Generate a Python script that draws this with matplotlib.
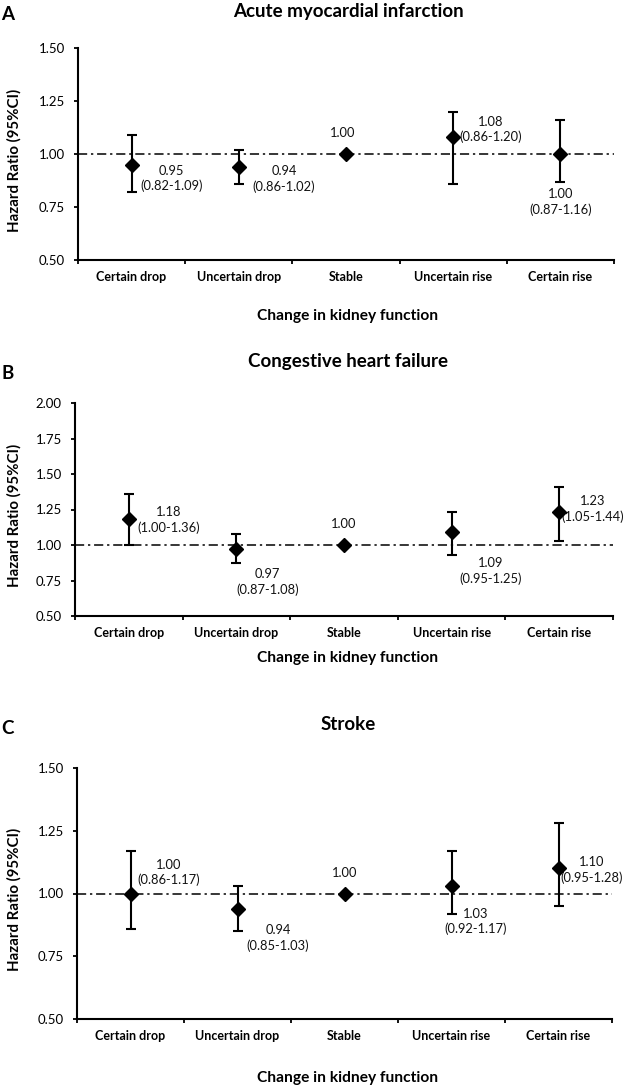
import matplotlib
matplotlib.use("Agg")
import matplotlib.pyplot as plt

plt.rcParams['font.family'] = ['Lato', 'DejaVu Sans']

categories = ["Certain drop", "Uncertain drop", "Stable", "Uncertain rise", "Certain rise"]

# Panel A: Acute myocardial infarction
hr_a = [0.95, 0.94, 1.00, 1.08, 1.00]
lo_a = [0.82, 0.86, 1.00, 0.86, 0.87]
hi_a = [1.09, 1.02, 1.00, 1.20, 1.16]
lab_a = ["0.95\n(0.82-1.09)", "0.94\n(0.86-1.02)", "1.00", "1.08\n(0.86-1.20)", "1.00\n(0.87-1.16)"]

# Panel B: Congestive heart failure
hr_b = [1.18, 0.97, 1.00, 1.09, 1.23]
lo_b = [1.00, 0.87, 1.00, 0.93, 1.03]
hi_b = [1.36, 1.08, 1.00, 1.23, 1.41]
lab_b = ["1.18\n(1.00-1.36)", "0.97\n(0.87-1.08)", "1.00", "1.09\n(0.95-1.25)", "1.23\n(1.05-1.44)"]

# Panel C: Stroke
hr_c = [1.00, 0.94, 1.00, 1.03, 1.10]
lo_c = [0.86, 0.85, 1.00, 0.92, 0.95]
hi_c = [1.17, 1.03, 1.00, 1.17, 1.28]
lab_c = ["1.00\n(0.86-1.17)", "0.94\n(0.85-1.03)", "1.00", "1.03\n(0.92-1.17)", "1.10\n(0.95-1.28)"]

titles = ["Acute myocardial infarction", "Congestive heart failure", "Stroke"]
letters = ["A", "B", "C"]
yticks_a = [0.50, 0.75, 1.00, 1.25, 1.50]
yticks_b = [0.50, 0.75, 1.00, 1.25, 1.50, 1.75, 2.00]
yticks_c = [0.50, 0.75, 1.00, 1.25, 1.50]
xlabel = "Change in kidney function"
ylabel = "Hazard Ratio (95%CI)"

# ---- layout (pixels) ----
W, H = 628, 1086
fig = plt.figure(figsize=(W / 100, H / 100), dpi=100)

panels = [
    dict(box=(78, 614, 48, 260), hr=hr_a, lo=lo_a, hi=hi_a, lab=lab_a, yt=yticks_a,
         title_y=11, letter_y=15, xlab_y=316,
         off=[(0.37, 0.885), (0.42, 0.883), (-0.03, 1.098), (0.35, 1.116), (0.0, 0.773)]),
    dict(box=(75, 613, 403, 616), hr=hr_b, lo=lo_b, hi=hi_b, lab=lab_b, yt=yticks_b,
         title_y=362, letter_y=373, xlab_y=658,
         off=[(0.375, 1.174), (0.29, 0.741), (0.0, 1.15), (0.36, 0.819), (0.31, 1.254)]),
    dict(box=(77, 612, 768, 1019), hr=hr_c, lo=lo_c, hi=hi_c, lab=lab_c, yt=yticks_c,
         title_y=725, letter_y=729, xlab_y=1078,
         off=[(0.36, 1.084), (0.38, 0.822), (0.0, 1.08), (0.23, 0.888), (0.31, 1.095)]),
]

x = list(range(1, len(categories) + 1))

for i, p in enumerate(panels):
    x0, x1, y0, y1 = p["box"]
    ax = fig.add_axes([x0 / W, 1 - y1 / H, (x1 - x0) / W, (y1 - y0) / H])
    yt = p["yt"]
    ax.set_ylim(yt[0], yt[-1])
    ax.set_xlim(0.5, len(categories) + 0.5)
    ax.axhline(1.0, color="black", lw=1.1, ls=(0, (6, 2.5, 1.5, 2.5)), zorder=1)
    hr, lo, hi = p["hr"], p["lo"], p["hi"]
    err = [[h - l for h, l in zip(hr, lo)], [u - h for h, u in zip(hr, hi)]]
    ax.errorbar(x, hr, yerr=err, fmt="D", color="black", ms=7.5, ecolor="black",
                elinewidth=1.5, capsize=3.5, capthick=1.5, zorder=3)
    for xi, t, (dx, ty) in zip(x, p["lab"], p["off"]):
        ax.text(xi + dx, ty, t, ha="center", va="center", fontsize=9.3,
                linespacing=1.3, color="#111111")
    for s in ["top", "right"]:
        ax.spines[s].set_visible(False)
    for s in ["left", "bottom"]:
        ax.spines[s].set_linewidth(1.5)
    ax.set_yticks(yt)
    ax.set_yticklabels([f"{v:.2f}" for v in yt], fontsize=9.5)
    ax.tick_params(axis="y", length=3, width=1.3, pad=6.5)
    ax.set_xticks([k + 0.5 for k in range(0, len(categories) + 1)])
    ax.set_xticklabels([])
    ax.tick_params(axis="x", which="major", length=3, width=1.3)
    ax.set_xticks(x, minor=True)
    ax.set_xticklabels(categories, minor=True, fontsize=9, fontweight="bold")
    ax.tick_params(axis="x", which="minor", length=0, pad=8)
    # titles and labels
    cx = 348
    fig.text(cx / W, 1 - p["title_y"] / H, titles[i], ha="center", va="center",
             fontsize=13.5, fontweight="bold")
    fig.text(8 / W, 1 - p["letter_y"] / H, letters[i], ha="center", va="center",
             fontsize=13.5, fontweight="bold")
    fig.text(cx / W, 1 - p["xlab_y"] / H, xlabel, ha="center", va="center",
             fontsize=11.2, fontweight="bold")
    fig.text(14 / W, 1 - ((y0 + y1) / 2 + 6) / H, ylabel, ha="center", va="center",
             rotation=90, fontsize=10.8, fontweight="bold")

fig.savefig("out.png", dpi=100, facecolor="white")
